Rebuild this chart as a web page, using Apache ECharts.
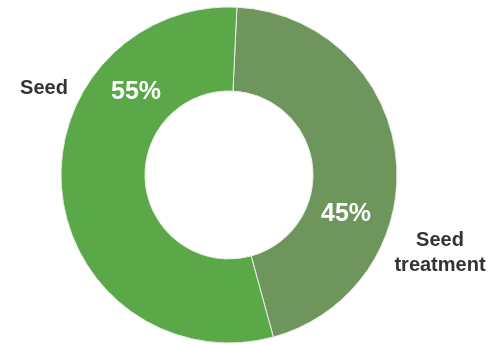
<!DOCTYPE html>
<html>
<head>
<meta charset="utf-8">
<script src="https://cdn.jsdelivr.net/npm/echarts@6/dist/echarts.min.js"></script>
<style>
html,body{margin:0;padding:0;background:#fff;}
#chart{width:500px;height:344px;}
</style>
</head>
<body>
<div id="chart"></div>
<script>
// slices, clockwise from just right of 12 o'clock
var names=['Seed treatment','Seed'];
var shares=[45,55];
var colors=['#6e965c','#5ba849'];
// label spots (px)
var pctPos=[[346,214],[136,92]];
var namePos=[[440,253],[44,88]];

var font='"Liberation Sans", Arial, sans-serif';
var pieBase={
    type:'pie',
    center:[229,175],
    radius:[84,168],
    startAngle:87.3,
    clockwise:true,
    avoidLabelOverlap:false,
    animation:false
};

function layoutAt(list){
    return function(p){
        var xy=list[p.dataIndex];
        return {x:xy[0],y:xy[1],align:'center',verticalAlign:'middle'};
    };
}

var chart=echarts.init(document.getElementById('chart'));
chart.setOption({
    backgroundColor:'#fff',
    series:[
        echarts.util.merge({
            data:names.map(function(n,i){
                return {name:n,value:shares[i],itemStyle:{color:colors[i]}};
            }),
            itemStyle:{borderColor:'#e8eee4',borderWidth:1},
            label:{
                show:true,
                position:'inside',
                formatter:'{c}%',
                color:'#fff',
                fontFamily:font,
                fontWeight:'bold',
                fontSize:25
            },
            labelLine:{show:false},
            labelLayout:layoutAt(pctPos)
        },pieBase,true),
        echarts.util.merge({
            silent:true,
            z:3,
            data:names.map(function(n,i){
                return {name:n.replace(' ','\n'),value:shares[i]};
            }),
            itemStyle:{color:'transparent',borderWidth:0},
            label:{
                show:true,
                position:'outside',
                formatter:'{b}',
                color:'#333',
                fontFamily:font,
                fontWeight:'bold',
                fontSize:20,
                lineHeight:25,
                align:'center'
            },
            labelLine:{show:false},
            labelLayout:layoutAt(namePos)
        },pieBase,true)
    ]
});
</script>
</body>
</html>
